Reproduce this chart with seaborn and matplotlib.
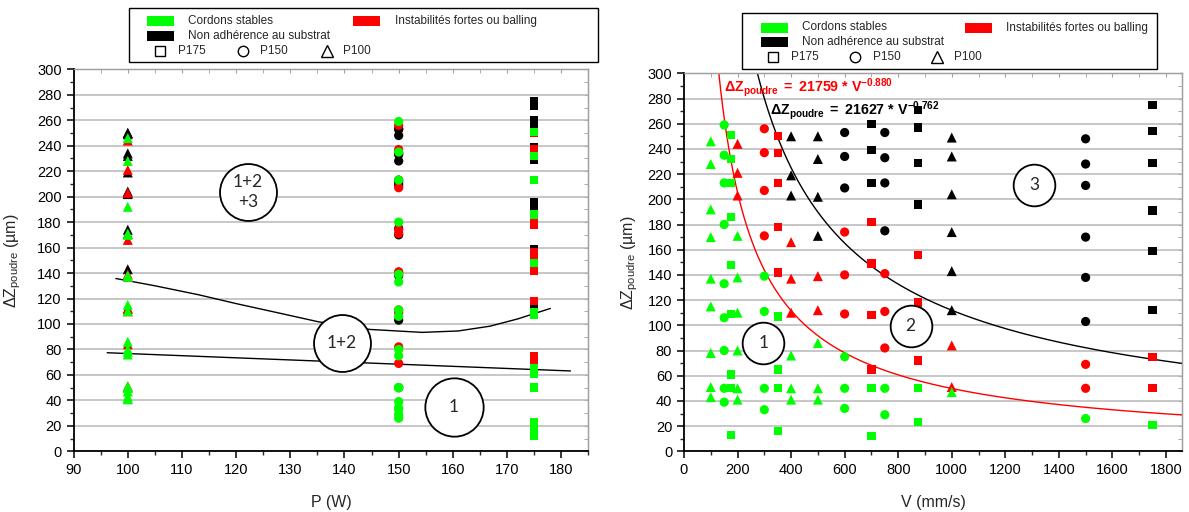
import numpy as np
import pandas as pd
import matplotlib
matplotlib.use("Agg")
import matplotlib.pyplot as plt
import seaborn as sns
from matplotlib.lines import Line2D
from matplotlib.patches import Rectangle
from matplotlib.ticker import MultipleLocator, NullFormatter

# ---------------- data ----------------
# P175 (squares)
v175 = [175, 350, 700, 875, 1750]
z175_black = [[], [], [260, 239, 213], [271, 257, 229, 196], [275, 254, 229, 191, 159, 112]]
z175_red = [[], [250, 237, 213, 178, 142], [182, 149, 108, 65], [156, 118, 72], [75, 50]]
z175_green = [[251, 232, 213, 186, 148, 109, 61, 50, 13], [107, 65, 50, 16], [50, 12], [50, 23], [21]]

# P150 (circles)
v150 = [150, 300, 600, 750, 1500]
z150_black = [[], [], [253, 234, 209], [253, 233, 213, 175], [248, 228, 211, 170, 138, 103]]
z150_red = [[], [256, 237, 207, 171], [174, 140, 109], [141, 111, 82], [69, 50]]
z150_green = [[259, 235, 213, 180, 133, 106, 80, 50, 39], [139, 111, 50, 33], [75, 50, 34], [50, 29], [26]]

# P100 (triangles)
v100 = [100, 200, 400, 500, 1000]
z100_black = [[], [], [250, 219, 203], [250, 232, 202, 171], [249, 234, 204, 174, 143, 112]]
z100_red = [[], [244, 221, 203], [166, 137, 110], [139, 112], [84, 51]]
z100_green = [[246, 228, 192, 170, 137, 115, 78, 51, 43], [171, 138, 110, 80, 50, 41], [76, 50, 41], [86, 50, 41], [47]]

# boundaries drawn on the P chart
p_low = [96.2, 181.7]
z_low = [77.4, 63.1]
p_up = [97.8, 105, 113, 120, 128, 135.2, 144.7, 154.3, 161, 166.9, 172, 178]
z_up = [135.7, 130, 123, 116, 108.5, 101.7, 95.7, 93.4, 94.5, 98.3, 104, 112.2]

# fitted laws shown on the V chart
red_a, red_b = 21759, -0.880
blk_a, blk_b = 21627, -0.762

# ---------------- build table ----------------
rows = []
groups = [(175, v175, z175_black, z175_red, z175_green),
          (150, v150, z150_black, z150_red, z150_green),
          (100, v100, z100_black, z100_red, z100_green)]
for P, vs, zb, zr, zg in groups:
    for cls, zz in (("noadh", zb), ("instab", zr), ("stable", zg)):
        for v, lst in zip(vs, zz):
            for z in lst:
                rows.append(dict(P=P, V=v, dz=z, cls=cls))
df = pd.DataFrame(rows)

palette = {"noadh": "black", "instab": "#ff0000", "stable": "#00ff00"}
markers = {175: "s", 150: "o", 100: "^"}
sizes = {175: 36, 150: 44, 100: 52}

# ---------------- style ----------------
sns.set_style("white")
plt.rcParams["font.family"] = ["Liberation Sans", "DejaVu Sans"]
plt.rcParams["mathtext.fontset"] = "custom"
plt.rcParams["mathtext.rm"] = "Liberation Sans"
plt.rcParams["mathtext.it"] = "Liberation Sans:italic"
plt.rcParams["mathtext.bf"] = "Liberation Sans:bold"

W, H = 1189, 512
fig = plt.figure(figsize=(W / 100, H / 100), dpi=100)
fig.patch.set_facecolor("white")


def fx(x):
    return x / W


def fy(y):
    return 1 - y / H


axL = fig.add_axes([fx(73.6), fy(451.3), (588.3 - 73.6) / W, (451.3 - 69.3) / H])
axR = fig.add_axes([fx(684), fy(451.3), (1182 - 684) / W, (451.3 - 73.3) / H])

for P in [175, 150, 100]:
    sub = df[df.P == P]
    sns.scatterplot(data=sub, x="P", y="dz", hue="cls", palette=palette, marker=markers[P],
                    s=sizes[P], linewidth=0, ax=axL, legend=False, zorder=3)
    sns.scatterplot(data=sub, x="V", y="dz", hue="cls", palette=palette, marker=markers[P],
                    s=sizes[P], linewidth=0, ax=axR, legend=False, zorder=3)

# boundaries (left)
sns.lineplot(x=p_low, y=z_low, ax=axL, color="black", lw=1.0, estimator=None, zorder=2)
sns.lineplot(x=p_up, y=z_up, ax=axL, color="black", lw=1.0, estimator=None, zorder=2)

# fitted curves (right)
vfit = np.linspace(100, 1860, 500)
sns.lineplot(x=vfit, y=red_a * vfit ** red_b, ax=axR, color="#ff0000", lw=1.0, estimator=None, zorder=2)
sns.lineplot(x=vfit, y=blk_a * vfit ** blk_b, ax=axR, color="black", lw=1.0, estimator=None, zorder=2)

# zone circles
def zone(ax, x, y, label, ms, fs=12.5):
    ax.plot([x], [y], marker="o", ms=ms, mfc="white", mec="black", mew=1.3, zorder=6, ls="none")
    ax.text(x, y, label, ha="center", va="center", fontsize=fs, family=["Lato", "DejaVu Sans"],
            zorder=7, linespacing=1.35)

zone(axL, 122.2, 203.5, "1+2\n+3", 41)
zone(axL, 139.5, 85.3, "1+2", 41)
zone(axL, 160.2, 35.1, "1", 42)
zone(axR, 296, 85.7, "1", 30)
zone(axR, 846, 99.7, "2", 30)
zone(axR, 1309, 211, "3", 30)

# equations
axR.text(149, 285.5, r"$\mathbf{\Delta Z}_{\mathbf{poudre}}\mathbf{\ {=}\ 21759\ {*}\ V}^{\mathbf{-0.880}}$",
         color="#ff0000", fontsize=10.3, ha="left", va="baseline", zorder=8)
axR.text(323, 267.5, r"$\mathbf{\Delta Z}_{\mathbf{poudre}}\mathbf{\ {=}\ 21627\ {*}\ V}^{\mathbf{-0.762}}$",
         color="black", fontsize=10.3, ha="left", va="baseline", zorder=8)

# axes formatting
gray = "#a0a0a0"
for ax, xl, xmaj, xmin, xlabel in ((axL, (90, 185), 10, 5, "P (W)"), (axR, (0, 1860), 200, 100, "V (mm/s)")):
    ax.set_xlim(*xl)
    ax.set_ylim(0, 300)
    ax.xaxis.set_major_locator(MultipleLocator(xmaj))
    ax.xaxis.set_minor_locator(MultipleLocator(xmin))
    ax.yaxis.set_major_locator(MultipleLocator(20))
    ax.yaxis.set_minor_locator(MultipleLocator(10))
    ax.tick_params(which="major", direction="out", length=5, width=1.1, labelsize=10.5, colors="black")
    ax.tick_params(which="minor", direction="out", length=3, width=1.0)
    ax.tick_params(axis="both", which="both", bottom=True, left=True)
    ax.yaxis.grid(True, color="#b8b8b8", lw=1.1)
    ax.xaxis.grid(False)
    ax.set_axisbelow(True)
    for s in ("left", "bottom"):
        ax.spines[s].set_color("black")
        ax.spines[s].set_linewidth(1.3)
    for s in ("top", "right"):
        ax.spines[s].set_color(gray)
        ax.spines[s].set_linewidth(1.0)
    ax.set_xlabel(xlabel, fontsize=11.5)
    ax.set_ylabel(r"$\Delta\mathrm{Z}_{\mathrm{poudre}}$ (µm)", fontsize=11.5)
    ax.xaxis.set_label_coords(0.5, -0.115)
    sx = ax.secondary_xaxis("top")
    sx.xaxis.set_major_locator(MultipleLocator(xmaj))
    sx.xaxis.set_minor_locator(MultipleLocator(xmin))
    sx.xaxis.set_major_formatter(NullFormatter())
    sx.tick_params(which="both", direction="in", length=3, color=gray)
    sx.spines["top"].set_color(gray)
    sy = ax.secondary_yaxis("right")
    sy.yaxis.set_major_locator(MultipleLocator(20))
    sy.yaxis.set_minor_locator(MultipleLocator(10))
    sy.yaxis.set_major_formatter(NullFormatter())
    sy.tick_params(which="both", direction="in", length=3, color=gray)
    sy.spines["right"].set_color(gray)

axL.yaxis.set_label_coords(-0.098, 0.5)
axR.yaxis.set_label_coords(-0.088, 0.5)


# ---------------- legends (figure level) ----------------
def legend_box(x0, x1, y0, y1, rows_y, patch_x, text_x, red_px, red_tx, mk):
    fig.add_artist(Rectangle((fx(x0), fy(y1)), (x1 - x0) / W, (y1 - y0) / H, transform=fig.transFigure,
                             fill=True, facecolor="white", edgecolor="black", lw=1.0))
    ph = 10
    pw = 27
    r1, r2, r3 = rows_y
    for (px, py, col) in ((patch_x, r1, "#00ff00"), (red_px, r1, "#ff0000"), (patch_x, r2, "black")):
        fig.add_artist(Rectangle((fx(px), fy(py + ph / 2)), pw / W, ph / H, transform=fig.transFigure,
                                 facecolor=col, edgecolor="none"))
    fig.text(fx(text_x), fy(r1), "Cordons stables", fontsize=8.5, va="center", ha="left")
    fig.text(fx(red_tx), fy(r1), "Instabilités fortes ou balling", fontsize=8.5, va="center", ha="left")
    fig.text(fx(text_x), fy(r2), "Non adhérence au substrat", fontsize=8.5, va="center", ha="left")
    for (mx, m, lab, tx, ms) in mk:
        fig.add_artist(Line2D([fx(mx)], [fy(r3)], transform=fig.transFigure, marker=m, ms=ms,
                              mfc="none", mec="black", mew=1.0, ls="none"))
        fig.text(fx(tx), fy(r3), lab, fontsize=8.5, va="center", ha="left")


legend_box(129, 598, 8, 62, (21.3, 35.7, 50.7), 147, 188, 353, 395,
           [(160, "s", "P175", 178, 6.5), (243, "o", "P150", 260, 7.5), (327, "^", "P100", 343, 8.5)])
legend_box(742, 1157, 13, 69, (27.5, 41.7, 57.3), 761, 802, 965, 1006,
           [(773, "s", "P175", 791, 6.5), (855, "o", "P150", 873, 7.5), (937, "^", "P100", 954, 8.5)])

fig.savefig("out.png", dpi=100, facecolor="white")
